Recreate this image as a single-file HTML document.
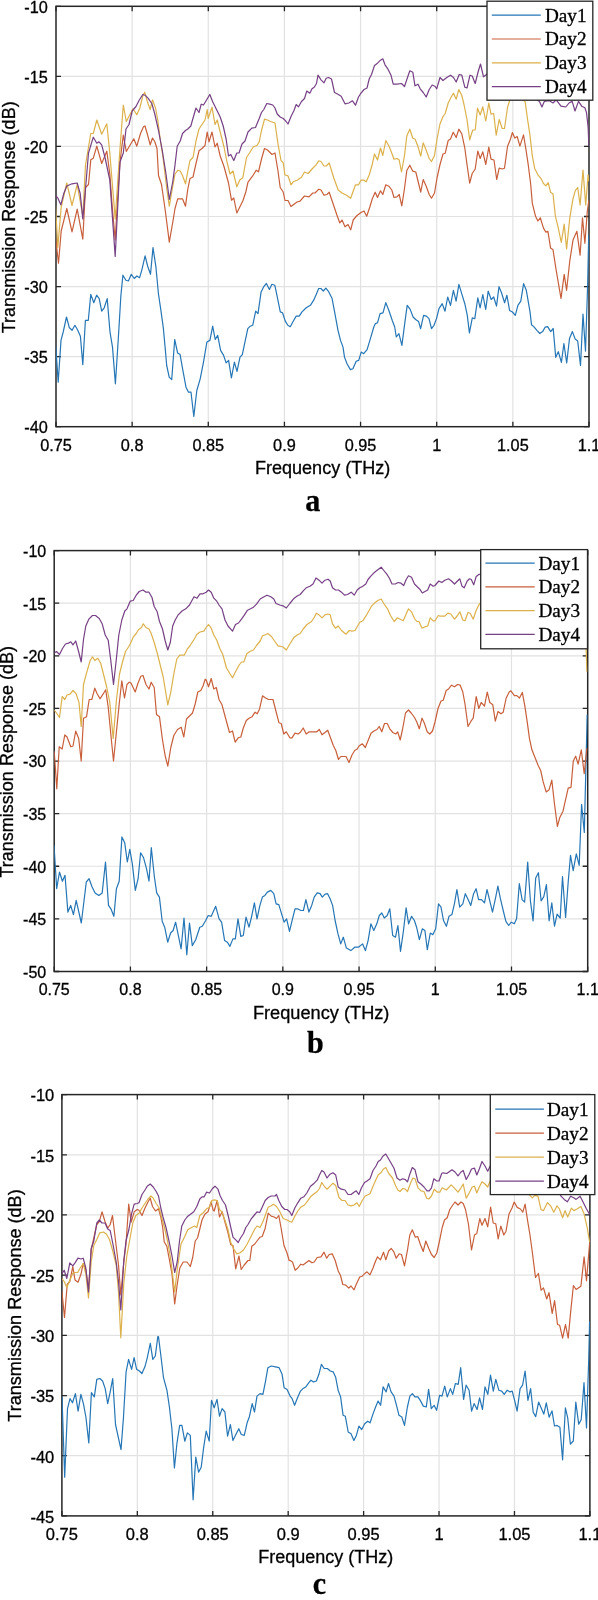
<!DOCTYPE html><html><head><meta charset="utf-8"><style>html,body{margin:0;padding:0;background:#fff;width:598px;height:1600px;overflow:hidden}svg{display:block;will-change:transform}</style></head><body>
<svg width="598" height="1600" viewBox="0 0 598 1600" font-family="Liberation Sans, sans-serif"><g stroke="#000" stroke-width="0.3">
<clipPath id="clipa"><rect x="56" y="6.3" width="533.0" height="420.4"/></clipPath>
<path d="M132.14 6.3V426.7M208.29 6.3V426.7M284.43 6.3V426.7M360.57 6.3V426.7M436.71 6.3V426.7M512.86 6.3V426.7M56 356.63H589M56 286.57H589M56 216.50H589M56 146.43H589M56 76.37H589" stroke="#e2e2e2" stroke-width="1.2" fill="none"/>
<path d="M56.00 426.7v-5M56.00 6.3v5M132.14 426.7v-5M132.14 6.3v5M208.29 426.7v-5M208.29 6.3v5M284.43 426.7v-5M284.43 6.3v5M360.57 426.7v-5M360.57 6.3v5M436.71 426.7v-5M436.71 6.3v5M512.86 426.7v-5M512.86 6.3v5M589.00 426.7v-5M589.00 6.3v5M56 426.70h5M589 426.70h-5M56 356.63h5M589 356.63h-5M56 286.57h5M589 286.57h-5M56 216.50h5M589 216.50h-5M56 146.43h5M589 146.43h-5M56 76.37h5M589 76.37h-5M56 6.30h5M589 6.30h-5" stroke="#262626" stroke-width="1.3" fill="none"/>
<rect x="56" y="6.3" width="533.0" height="420.4" fill="none" stroke="#262626" stroke-width="1.5"/>
<polyline points="55.7,345.4 58.2,382.2 61.0,340.4 63.2,332.0 66.5,317.0 69.4,327.8 72.1,330.3 74.9,325.3 77.4,329.5 80.4,336.2 82.8,364.6 85.4,320.3 88.3,320.3 90.8,294.4 93.8,302.7 96.6,295.2 99.2,298.6 101.7,311.1 104.2,307.8 107.2,298.6 110.0,332.0 112.5,347.1 115.4,383.8 118.4,337.0 120.9,295.2 122.9,275.2 125.9,280.2 128.4,281.0 131.3,274.3 134.3,278.5 136.8,276.0 139.6,277.7 141.8,270.1 145.1,255.9 147.6,266.0 150.5,274.3 153.0,247.6 155.9,266.8 158.4,293.5 160.9,310.3 163.4,328.7 165.1,347.1 166.7,365.5 169.2,377.2 171.7,379.7 174.7,339.5 177.6,352.9 180.1,354.6 182.6,368.8 186.0,387.2 188.5,392.2 191.0,392.2 193.8,416.5 196.8,390.5 200.2,378.8 203.5,362.1 206.9,342.0 209.9,340.4 212.7,326.2 215.2,339.5 217.7,335.4 220.6,350.4 223.6,355.4 226.1,362.9 228.6,360.4 231.4,378.0 234.4,362.1 237.0,371.3 240.0,357.1 242.3,354.6 245.3,340.4 247.8,328.7 250.2,326.2 252.7,325.3 255.7,311.1 258.0,313.6 261.1,291.9 263.6,286.9 266.4,283.5 269.4,289.4 271.9,284.3 274.8,285.2 276.9,295.2 280.3,311.9 282.5,312.8 285.3,321.1 287.8,325.3 290.3,326.7 292.8,322.0 296.2,316.1 299.2,316.1 302.0,311.9 306.2,307.8 310.4,305.3 313.7,300.2 316.2,294.4 318.7,288.5 320.9,288.5 323.3,291.0 325.9,288.2 328.8,291.9 332.1,298.6 334.6,311.9 338.0,330.3 340.5,340.4 343.0,347.1 344.5,357.1 347.0,363.8 350.4,369.6 352.9,368.8 356.2,361.3 358.7,360.4 361.2,352.1 363.7,353.7 367.1,349.6 370.4,338.7 373.8,327.0 375.4,323.6 377.5,322.8 380.1,313.6 383.0,312.8 385.8,302.7 388.8,310.3 392.2,320.3 394.7,327.0 396.3,337.0 398.9,333.7 401.9,345.4 404.7,323.6 407.2,305.3 410.2,309.4 413.1,317.0 415.6,319.5 418.6,321.6 420.6,328.7 423.6,315.3 426.4,316.1 429.0,318.6 431.5,328.7 434.0,325.3 436.5,318.6 439.0,308.6 442.2,303.7 445.0,311.2 447.7,297.0 450.5,305.4 453.4,290.3 456.1,301.2 458.9,284.4 461.7,293.6 464.8,303.7 467.3,315.4 469.4,332.9 472.3,317.9 474.8,318.7 477.8,297.8 480.1,307.9 482.8,294.5 485.7,309.5 488.2,291.1 491.2,299.5 493.7,297.0 496.5,306.2 499.0,286.6 501.5,292.8 504.6,302.8 506.9,295.3 509.6,310.4 512.4,312.0 515.3,315.4 517.9,305.4 520.8,301.2 523.6,283.6 526.3,290.3 530.0,311.6 531.5,324.7 533.8,326.6 536.9,330.4 539.8,333.5 542.6,331.6 545.1,327.2 547.6,326.6 550.7,331.6 553.2,328.5 555.7,357.3 558.3,351.7 561.4,362.3 563.9,343.5 566.7,363.0 569.5,338.5 572.4,331.6 575.2,339.1 577.7,341.0 580.5,365.5 583.0,314.1 585.5,351.1 587.7,282.7 588.7,235.1" fill="none" stroke="#2476b6" stroke-width="1.2" stroke-linejoin="round" clip-path="url(#clipa)"/>
<polyline points="55.5,237.0 58.5,263.2 61.2,231.0 66.8,208.5 72.0,231.8 77.2,209.2 82.8,239.2 85.5,187.5 88.5,184.5 90.8,159.8 93.3,158.2 96.8,146.2 101.7,163.5 106.8,151.2 109.8,174.0 112.5,210.0 115.2,240.0 117.8,195.0 120.0,162.0 123.3,135.0 126.3,151.5 133.8,138.8 136.8,146.2 140.5,133.5 143.5,126.8 145.0,126.0 147.2,133.5 150.2,144.8 152.5,138.0 154.8,141.8 157.0,148.5 158.5,175.5 161.5,184.5 165.2,210.0 169.3,242.2 172.8,222.0 175.0,208.5 177.7,198.8 182.5,198.8 185.5,206.2 187.8,189.0 190.0,178.5 193.0,177.0 196.0,163.5 199.0,150.8 202.0,148.5 205.0,145.5 207.2,132.0 209.0,141.8 212.0,132.0 215.0,147.0 217.2,143.2 220.2,156.0 224.0,166.5 228.5,183.0 231.5,200.2 233.8,198.0 236.8,213.0 239.8,207.0 242.8,201.0 245.8,192.0 248.0,182.2 252.5,176.2 256.2,170.2 258.5,171.8 261.5,159.0 264.5,148.5 267.5,150.0 272.0,154.5 275.0,153.0 278.0,171.0 280.2,187.5 283.2,192.0 285.0,200.5 288.0,200.5 291.0,206.5 294.0,204.2 297.0,202.0 300.0,201.2 304.5,196.0 309.0,196.8 312.8,193.0 315.0,193.0 318.8,189.2 321.0,190.0 324.0,195.2 327.0,194.5 329.2,192.2 333.0,203.5 336.8,214.8 339.8,223.0 342.0,220.0 345.0,226.8 348.0,224.5 350.7,229.8 353.2,220.0 357.0,215.5 361.0,212.5 364.0,211.0 366.7,216.2 370.0,206.5 372.2,199.0 375.2,192.2 377.5,197.5 380.5,190.8 382.8,194.5 385.8,184.8 388.8,186.2 391.8,190.0 394.0,197.5 397.0,196.8 399.2,194.5 401.8,205.8 404.5,188.5 406.8,170.5 409.8,165.2 412.8,171.2 415.8,172.0 418.0,181.0 420.7,192.2 423.2,179.5 426.2,186.2 429.2,194.5 431.5,198.2 434.5,193.0 437.0,178.0 440.0,164.5 443.0,154.0 445.2,153.2 448.2,140.5 450.5,139.0 453.2,132.2 456.2,137.5 458.8,129.2 461.8,133.8 464.8,148.0 467.0,164.5 469.7,183.2 472.2,173.5 475.2,169.0 477.8,151.0 480.2,158.5 482.8,151.8 485.8,164.5 488.8,147.2 491.0,159.2 494.0,160.0 496.7,179.5 499.2,168.2 502.2,169.0 504.5,168.2 507.5,146.5 510.5,139.0 512.4,132.5 514.8,138.1 517.2,136.5 519.9,146.1 523.5,134.9 525.9,149.2 528.3,165.2 530.7,184.3 532.3,203.4 535.5,216.2 537.9,221.0 540.3,217.8 543.5,228.1 545.9,232.1 547.9,231.3 550.6,248.1 553.0,249.7 556.2,270.4 561.0,298.3 564.2,274.4 566.6,290.3 569.8,260.8 573.0,240.1 576.9,231.3 580.1,255.2 582.5,217.8 584.9,243.3 587.3,211.4 588.9,200.2" fill="none" stroke="#c95f3a" stroke-width="1.2" stroke-linejoin="round" clip-path="url(#clipa)"/>
<polyline points="55.5,205.5 57.8,247.5 61.2,207.0 66.8,183.0 72.0,205.5 77.2,184.5 82.8,216.0 85.5,165.0 90.8,133.5 93.3,133.5 96.8,120.0 101.7,134.2 106.8,123.8 109.8,153.0 115.2,219.0 120.0,148.5 123.3,105.0 126.3,121.5 133.0,108.8 136.8,114.8 139.8,108.0 142.8,96.0 144.7,92.2 147.2,101.2 150.2,109.5 152.5,99.8 155.5,108.0 157.8,120.0 160.0,138.0 163.0,157.5 166.8,189.0 169.3,206.2 172.0,190.5 175.0,174.0 178.0,170.2 180.2,171.0 182.5,175.5 185.5,183.8 187.8,171.0 190.0,160.5 193.0,157.5 196.0,141.0 199.0,129.0 202.0,124.5 205.0,120.0 207.2,109.5 208.2,118.5 212.0,107.2 215.0,124.5 217.2,120.0 220.2,132.0 224.0,147.0 227.0,162.0 230.0,174.0 233.0,171.0 236.8,186.8 239.8,180.0 242.8,177.8 246.5,157.5 249.5,153.0 253.2,147.0 257.0,145.5 259.2,141.8 261.5,130.5 264.5,119.2 267.5,120.0 270.5,121.5 275.0,123.0 278.0,144.0 281.0,160.5 283.2,162.8 285.0,175.0 288.0,175.8 291.0,184.8 293.2,181.8 297.0,180.2 301.5,177.2 304.5,172.0 308.2,173.5 312.0,169.0 315.8,165.2 318.8,160.8 321.0,161.5 324.0,166.0 326.2,166.0 329.2,163.0 333.8,178.0 338.2,190.0 342.0,193.0 346.5,195.2 350.7,198.2 355.5,184.8 358.5,184.8 361.0,180.2 364.0,180.2 366.2,181.8 369.2,175.0 372.2,164.5 374.5,154.0 377.5,160.0 380.5,148.0 382.8,155.5 385.8,140.5 388.8,145.8 391.0,151.0 394.0,159.2 397.0,158.5 399.2,160.0 401.5,172.0 404.5,155.5 406.8,136.0 409.8,129.2 412.8,138.2 415.0,139.0 418.0,146.5 420.7,156.2 423.2,142.8 426.2,150.2 429.2,158.5 431.5,161.5 434.5,155.5 437.0,139.0 440.0,124.0 443.0,116.5 445.2,113.5 448.2,103.0 451.2,97.0 453.5,93.2 456.2,99.2 458.8,89.5 461.8,95.5 464.0,104.5 467.0,119.5 469.7,139.8 472.7,130.0 475.2,130.0 477.5,108.2 480.2,115.0 482.8,106.8 485.8,121.0 488.8,103.0 491.0,114.2 493.7,113.5 496.2,135.2 499.2,119.5 502.2,128.5 504.5,128.5 507.5,107.5 510.5,97.8 520.4,98.2 525.1,101.4 527.5,119.0 529.9,134.9 532.3,155.6 534.7,168.4 537.9,174.8 541.1,178.7 543.5,183.5 545.9,185.9 548.2,182.7 550.6,192.3 553.0,193.9 555.4,216.2 557.8,225.8 561.3,242.5 564.2,224.2 566.6,248.9 569.8,217.8 573.0,198.7 575.3,190.7 577.7,187.5 580.1,205.0 583.0,170.0 585.7,205.0 588.1,174.8 588.9,181.1" fill="none" stroke="#dcb14a" stroke-width="1.2" stroke-linejoin="round" clip-path="url(#clipa)"/>
<polyline points="55.5,195.0 57.8,198.0 60.8,204.8 63.8,193.5 66.8,186.0 72.0,183.8 77.2,183.0 80.2,193.5 82.8,219.0 85.5,189.0 88.5,153.0 93.3,137.2 96.8,143.2 99.0,141.8 101.7,144.8 105.0,157.5 109.8,180.0 115.2,256.5 120.0,162.0 123.3,153.0 126.0,129.0 129.0,124.5 132.2,111.0 136.0,106.5 139.0,100.5 142.8,94.5 145.0,95.2 148.0,98.2 151.8,103.5 154.8,114.0 158.5,130.5 162.2,150.0 166.0,174.0 169.3,199.5 172.8,181.5 175.0,165.0 177.2,146.2 180.2,141.0 182.5,133.5 185.5,130.5 187.8,129.0 190.8,126.0 193.8,115.5 196.0,108.0 199.0,112.5 201.2,104.2 203.5,105.0 205.8,101.2 209.8,94.5 212.8,102.0 216.5,109.5 220.2,117.0 223.2,126.0 226.2,139.5 228.5,156.0 230.8,154.5 233.8,160.5 236.8,153.0 239.0,153.0 242.0,144.0 245.0,141.0 248.0,132.0 251.8,128.2 255.5,127.5 259.2,118.5 261.5,112.5 263.8,109.5 266.8,103.5 269.8,104.2 272.8,105.0 275.0,108.0 277.2,114.0 280.2,117.0 283.2,118.5 285.0,120.2 288.0,124.0 291.0,116.5 294.0,110.5 296.2,104.5 298.5,106.8 301.5,101.5 304.5,98.5 306.8,91.0 309.8,93.2 312.0,88.8 314.2,87.2 316.5,83.5 318.0,75.2 321.0,79.8 324.0,82.8 326.2,78.2 328.5,77.5 331.5,79.0 334.5,92.5 337.5,94.0 341.2,96.2 345.0,103.8 348.8,103.0 352.5,100.8 355.5,105.2 358.5,97.0 361.0,93.2 364.0,89.5 367.0,88.0 369.2,79.0 371.5,74.5 374.5,65.5 377.5,63.2 380.5,60.2 382.8,58.8 385.0,64.8 388.0,69.2 391.0,75.2 393.2,84.2 397.0,84.2 401.5,83.5 404.5,86.5 407.5,77.5 409.8,70.8 412.8,72.2 415.0,85.8 418.0,84.2 420.2,88.8 423.2,92.5 426.2,97.0 429.2,89.5 432.2,85.0 435.2,86.5 436.7,88.8 440.0,77.5 443.0,80.5 446.8,77.5 450.5,75.2 453.5,77.5 456.2,82.0 459.2,74.5 461.8,75.2 464.8,87.2 467.0,88.0 470.0,75.2 472.2,76.0 475.2,83.5 478.2,71.5 480.5,64.0 483.5,76.8 486.5,74.5 491.0,70.0 497.0,73.0 503.0,67.0 519.6,91.9 529.1,95.1 539.5,101.4 541.9,107.0 544.3,101.4 549.0,100.6 553.0,103.0 556.2,99.8 561.0,106.2 565.8,107.0 569.0,103.0 572.2,101.4 575.0,111.0 578.5,101.4 581.7,106.2 584.9,107.8 586.5,112.6 588.1,126.9 588.9,146.1" fill="none" stroke="#764085" stroke-width="1.2" stroke-linejoin="round" clip-path="url(#clipa)"/>
<text x="56.00" y="450.8" font-size="16.3" text-anchor="middle">0.75</text>
<text x="132.14" y="450.8" font-size="16.3" text-anchor="middle">0.8</text>
<text x="208.29" y="450.8" font-size="16.3" text-anchor="middle">0.85</text>
<text x="284.43" y="450.8" font-size="16.3" text-anchor="middle">0.9</text>
<text x="360.57" y="450.8" font-size="16.3" text-anchor="middle">0.95</text>
<text x="436.71" y="450.8" font-size="16.3" text-anchor="middle">1</text>
<text x="512.86" y="450.8" font-size="16.3" text-anchor="middle">1.05</text>
<text x="589.00" y="450.8" font-size="16.3" text-anchor="middle">1.1</text>
<text x="47.9" y="433.20" font-size="16.3" text-anchor="end">-40</text>
<text x="47.9" y="363.13" font-size="16.3" text-anchor="end">-35</text>
<text x="47.9" y="293.07" font-size="16.3" text-anchor="end">-30</text>
<text x="47.9" y="223.00" font-size="16.3" text-anchor="end">-25</text>
<text x="47.9" y="152.93" font-size="16.3" text-anchor="end">-20</text>
<text x="47.9" y="82.87" font-size="16.3" text-anchor="end">-15</text>
<text x="47.9" y="12.80" font-size="16.3" text-anchor="end">-10</text>
<text x="254.90" y="473.7" font-size="17.6" textLength="135.5" lengthAdjust="spacingAndGlyphs">Frequency (THz)</text>
<text transform="translate(14.5,333.30) rotate(-90)" font-size="17.6" textLength="232" lengthAdjust="spacingAndGlyphs">Transmission Response (dB)</text>
<rect x="487" y="1.2" width="105.80" height="99.00" fill="#fff" stroke="#262626" stroke-width="1.3"/>
<line x1="491.8" y1="15.2" x2="540.8" y2="15.2" stroke="#2476b6" stroke-width="1.2"/>
<text x="545.0" y="21.60" font-family="Liberation Serif, serif" font-size="18.6" textLength="41.5" lengthAdjust="spacingAndGlyphs">Day1</text>
<line x1="491.8" y1="39.0" x2="540.8" y2="39.0" stroke="#c95f3a" stroke-width="1.2"/>
<text x="545.0" y="45.40" font-family="Liberation Serif, serif" font-size="18.6" textLength="41.5" lengthAdjust="spacingAndGlyphs">Day2</text>
<line x1="491.8" y1="62.8" x2="540.8" y2="62.8" stroke="#dcb14a" stroke-width="1.2"/>
<text x="545.0" y="69.20" font-family="Liberation Serif, serif" font-size="18.6" textLength="41.5" lengthAdjust="spacingAndGlyphs">Day3</text>
<line x1="491.8" y1="86.6" x2="540.8" y2="86.6" stroke="#764085" stroke-width="1.2"/>
<text x="545.0" y="93.00" font-family="Liberation Serif, serif" font-size="18.6" textLength="41.5" lengthAdjust="spacingAndGlyphs">Day4</text>
<text transform="translate(312.8,511.3) scale(0.94,1)" font-family="Liberation Serif, serif" font-weight="bold" font-size="32" text-anchor="middle">a</text>
<clipPath id="clipb"><rect x="54.2" y="550.6" width="533.5" height="420.9"/></clipPath>
<path d="M130.41 550.6V971.5M206.63 550.6V971.5M282.84 550.6V971.5M359.06 550.6V971.5M435.27 550.6V971.5M511.49 550.6V971.5M54.2 918.89H587.7M54.2 866.27H587.7M54.2 813.66H587.7M54.2 761.05H587.7M54.2 708.44H587.7M54.2 655.83H587.7M54.2 603.21H587.7" stroke="#e2e2e2" stroke-width="1.2" fill="none"/>
<path d="M54.20 971.5v-5M54.20 550.6v5M130.41 971.5v-5M130.41 550.6v5M206.63 971.5v-5M206.63 550.6v5M282.84 971.5v-5M282.84 550.6v5M359.06 971.5v-5M359.06 550.6v5M435.27 971.5v-5M435.27 550.6v5M511.49 971.5v-5M511.49 550.6v5M587.70 971.5v-5M587.70 550.6v5M54.2 971.50h5M587.7 971.50h-5M54.2 918.89h5M587.7 918.89h-5M54.2 866.27h5M587.7 866.27h-5M54.2 813.66h5M587.7 813.66h-5M54.2 761.05h5M587.7 761.05h-5M54.2 708.44h5M587.7 708.44h-5M54.2 655.83h5M587.7 655.83h-5M54.2 603.21h5M587.7 603.21h-5M54.2 550.60h5M587.7 550.60h-5" stroke="#262626" stroke-width="1.3" fill="none"/>
<rect x="54.2" y="550.6" width="533.5" height="420.9" fill="none" stroke="#262626" stroke-width="1.5"/>
<polyline points="54.0,845.2 56.7,888.7 59.5,872.0 62.4,881.2 65.0,875.3 67.9,912.1 70.7,905.4 73.4,914.6 76.2,900.4 81.3,923.0 86.3,882.0 89.1,878.7 92.1,887.0 95.1,892.9 98.8,895.4 102.2,892.9 105.5,862.0 108.5,905.4 110.9,908.8 113.9,916.3 116.4,888.7 119.2,881.2 121.9,836.9 124.7,842.7 127.3,862.0 129.8,849.4 132.3,863.6 135.3,890.4 138.1,878.7 140.6,852.8 143.6,857.8 146.5,868.6 149.0,881.2 151.3,847.7 154.4,877.0 156.7,892.9 159.4,897.1 162.2,921.3 164.7,927.2 167.7,942.2 170.6,933.0 173.1,930.5 175.6,922.2 181.1,948.9 184.0,918.0 186.8,954.8 189.5,923.0 192.3,945.6 195.7,939.7 199.8,927.2 202.3,926.3 205.7,920.5 208.2,915.5 211.2,916.3 215.7,906.3 219.1,918.8 221.6,922.2 224.6,940.6 227.4,942.2 229.9,946.4 232.9,938.9 235.3,938.9 238.0,918.8 240.8,936.4 243.3,935.5 246.0,917.1 249.0,927.2 251.5,917.1 254.4,902.9 257.0,918.8 259.9,905.4 262.4,897.1 264.9,895.4 267.4,892.1 270.8,890.4 273.8,893.7 276.1,903.8 278.8,904.6 281.6,913.8 284.1,922.2 286.6,918.8 289.5,931.4 292.5,918.8 295.0,908.8 297.5,908.8 300.9,910.5 303.4,910.5 305.9,899.6 308.9,912.1 311.7,905.4 314.2,897.1 317.2,892.9 320.1,893.7 322.3,897.1 325.1,894.1 327.6,893.7 330.1,898.7 332.6,905.4 335.1,920.5 338.0,933.9 340.7,943.9 343.3,937.2 346.4,948.1 350.9,950.6 354.7,947.2 358.4,947.2 362.6,943.9 365.4,950.6 368.1,940.6 370.9,923.8 373.8,930.5 376.8,923.8 379.3,915.5 381.8,913.0 384.3,918.0 387.2,915.5 389.8,908.8 392.7,935.5 395.5,937.2 397.9,925.5 400.5,951.4 403.5,930.5 406.1,907.9 408.6,923.8 411.6,916.3 414.4,920.5 416.6,927.2 419.4,939.7 422.3,928.8 424.9,930.5 427.3,949.7 430.3,933.0 432.8,934.7 435.7,928.8 438.5,903.8 441.0,907.1 443.5,920.5 446.4,926.3 449.0,916.3 451.9,914.6 454.4,903.8 456.9,889.5 459.7,907.1 462.8,903.8 465.3,893.7 468.1,899.6 470.8,905.4 473.6,893.7 476.1,888.7 478.6,899.6 481.5,899.6 484.5,902.9 487.0,889.5 489.5,899.6 492.5,912.1 495.4,898.7 497.9,886.2 500.4,898.7 503.2,910.5 505.9,921.3 508.7,925.5 511.3,922.2 514.3,923.8 516.6,918.8 519.3,883.7 522.1,899.6 524.6,902.1 527.7,862.0 530.4,900.8 533.1,920.8 535.7,878.0 538.4,872.7 541.1,900.8 543.8,896.7 546.4,884.7 549.1,920.8 551.8,902.8 554.5,926.2 557.1,914.1 560.2,918.1 562.5,876.7 565.6,917.5 568.2,882.0 570.5,855.3 573.2,870.7 576.3,853.9 579.2,865.3 581.6,804.4 584.3,832.5 586.2,754.9 587.2,714.8" fill="none" stroke="#2476b6" stroke-width="1.2" stroke-linejoin="round" clip-path="url(#clipb)"/>
<polyline points="54.2,751.2 56.8,788.8 59.2,746.8 62.2,749.0 64.8,734.8 67.0,737.0 70.8,746.8 73.0,746.0 75.7,731.0 78.7,738.5 81.2,761.0 83.5,718.2 86.5,716.8 89.2,699.5 91.8,699.5 94.8,688.2 97.0,693.5 100.0,698.8 103.0,694.2 105.7,689.8 108.2,707.0 110.8,734.0 113.5,761.0 116.2,734.0 119.2,704.0 121.8,680.8 124.5,698.0 127.0,684.5 129.2,682.2 131.0,683.0 135.2,692.0 137.8,683.8 140.8,676.2 143.0,675.5 146.0,684.5 149.0,689.0 151.2,682.2 154.2,687.5 156.5,714.5 159.5,716.8 162.5,740.0 165.2,755.8 167.8,766.2 170.8,747.5 173.8,735.5 177.5,729.5 181.2,727.2 183.8,737.0 186.5,719.0 189.5,716.0 192.5,713.0 195.2,704.0 197.8,692.0 200.8,690.5 203.0,686.0 205.2,679.2 206.2,680.0 208.5,686.8 211.2,678.5 213.8,689.0 216.3,687.5 219.0,699.5 222.0,704.8 225.0,716.0 229.5,732.5 232.5,731.0 235.2,742.2 238.2,737.8 240.8,737.0 243.3,728.0 246.3,720.5 249.0,718.2 252.0,716.8 255.0,712.2 257.2,713.8 259.5,709.2 262.5,695.8 265.5,698.0 268.5,699.5 273.0,699.5 276.0,711.5 279.0,722.8 281.2,723.5 283.8,734.0 286.3,731.8 289.8,737.8 292.0,737.8 295.0,733.2 298.0,734.0 300.2,732.5 303.2,728.0 306.2,734.0 309.2,731.8 313.0,731.8 316.8,731.8 319.3,729.5 322.0,734.8 325.0,732.5 327.7,730.2 330.2,737.0 333.2,745.2 335.8,750.5 338.5,759.5 340.8,756.5 346.0,756.5 349.0,762.5 352.0,755.0 354.7,750.5 357.2,749.0 359.0,746.0 362.3,743.8 365.3,747.5 368.0,740.8 371.0,733.2 374.0,731.0 377.0,729.5 379.2,726.5 381.8,731.8 384.5,723.5 387.2,723.5 389.8,728.8 392.8,732.5 395.8,734.0 397.7,731.8 400.2,740.0 402.5,729.5 405.5,713.0 408.5,710.0 411.2,713.0 414.5,717.5 416.8,722.0 419.3,728.8 422.0,718.2 424.2,722.8 427.2,731.8 429.8,734.0 432.5,731.0 435.0,722.0 438.0,708.5 441.0,701.0 443.2,700.2 446.2,690.5 448.5,689.0 451.5,685.2 454.5,686.8 457.5,684.5 460.2,685.2 462.8,692.0 465.0,704.0 468.0,726.5 471.0,721.2 473.2,718.2 476.2,696.5 478.8,708.5 481.2,702.5 484.5,706.2 487.2,692.0 489.8,702.5 492.8,704.8 495.3,721.2 498.0,711.5 501.0,713.8 503.2,712.2 506.2,698.0 509.2,692.0 510.9,690.8 514.4,695.6 516.8,695.6 519.5,698.0 522.3,692.4 524.7,705.2 527.1,721.1 529.5,738.7 531.9,749.8 535.1,757.8 538.3,765.8 540.7,770.5 543.1,781.7 546.2,792.0 549.1,789.7 551.8,780.1 554.5,804.0 557.4,826.3 559.8,817.5 563.0,811.2 565.7,799.2 568.2,788.1 571.0,787.3 573.3,761.0 575.7,756.2 578.1,764.2 581.3,749.8 584.2,773.7 586.9,748.2" fill="none" stroke="#c95f3a" stroke-width="1.2" stroke-linejoin="round" clip-path="url(#clipb)"/>
<polyline points="54.2,710.0 56.5,713.0 59.5,717.5 62.2,696.5 64.8,699.5 67.0,695.0 70.0,694.2 73.0,690.5 76.0,693.5 79.0,702.5 81.2,726.5 83.5,684.5 86.5,673.2 90.2,660.5 92.5,656.8 94.8,660.5 97.8,658.2 100.8,663.5 103.8,675.5 106.8,687.5 109.8,702.5 113.2,738.5 116.5,699.5 119.5,674.0 122.5,662.0 125.5,651.5 128.5,647.0 130.2,644.0 133.2,637.2 136.2,633.5 138.5,629.8 141.5,627.5 143.3,623.8 146.0,627.5 149.0,629.0 151.2,633.5 154.2,642.5 157.2,653.0 160.2,665.0 163.2,677.0 167.8,704.8 170.8,692.0 173.8,674.0 176.8,659.0 179.8,655.2 184.2,655.2 187.2,649.2 190.2,645.5 194.0,639.5 197.0,634.2 200.0,632.0 203.8,631.2 206.2,627.5 208.5,624.5 211.2,628.2 213.8,635.0 216.8,640.2 219.8,648.5 222.8,654.5 226.5,668.0 229.2,672.5 232.5,677.8 235.5,671.8 239.2,665.0 241.5,662.0 243.8,662.0 246.8,653.8 249.8,651.5 253.5,650.0 256.5,645.5 260.2,641.0 262.5,635.8 264.8,635.0 267.8,633.5 271.5,636.5 274.5,641.0 278.2,646.2 280.5,646.2 283.0,647.0 286.3,650.0 289.8,644.0 294.2,637.2 297.2,635.0 300.2,633.5 303.2,629.0 307.0,624.5 311.5,621.5 314.5,617.0 316.3,613.2 319.0,614.8 322.0,617.8 325.0,614.8 328.0,614.0 330.2,614.8 332.5,623.8 335.5,628.2 338.2,626.0 341.5,630.5 346.0,634.2 349.3,630.5 352.0,631.2 355.0,630.5 359.8,622.2 362.8,620.8 365.8,616.2 368.8,611.0 371.8,605.8 374.8,602.8 377.8,600.5 381.2,599.0 383.8,603.5 387.5,608.8 390.5,615.5 394.2,621.5 397.2,617.8 400.2,619.2 403.2,620.8 406.2,614.0 408.5,608.8 411.5,611.8 414.5,618.5 416.8,621.5 419.0,621.5 422.0,628.2 425.0,626.8 427.7,626.0 430.2,617.8 433.2,620.8 435.0,620.8 438.3,615.5 440.2,616.2 442.5,616.2 444.8,616.2 447.8,613.2 450.8,614.0 454.5,619.2 457.5,615.5 459.8,611.8 462.8,620.0 465.0,620.8 468.0,612.5 470.2,613.2 473.2,619.2 476.2,610.2 479.2,604.2 481.5,602.0 492.0,599.0 571.8,606.4 584.5,609.6 586.1,647.8 586.9,671.7" fill="none" stroke="#dcb14a" stroke-width="1.2" stroke-linejoin="round" clip-path="url(#clipb)"/>
<polyline points="54.2,653.0 56.5,651.5 59.5,654.5 62.5,648.5 65.5,644.0 68.5,643.2 70.8,641.8 73.0,644.8 75.7,641.0 78.2,650.0 81.2,662.0 83.5,639.5 85.8,626.0 88.8,619.2 92.5,615.5 95.5,615.5 99.2,618.5 102.2,623.8 105.2,635.0 108.2,640.2 110.8,660.5 113.5,684.5 116.2,660.5 118.8,635.0 121.8,620.0 124.8,611.0 127.0,608.8 130.2,601.2 133.2,600.5 136.2,595.2 139.2,591.5 143.0,590.0 146.0,592.2 149.0,592.2 152.0,597.5 154.2,606.5 157.2,611.8 159.5,621.5 162.5,629.0 165.2,641.0 167.8,650.0 170.3,642.5 172.7,626.0 175.2,620.0 178.2,614.8 182.0,611.0 185.8,608.8 189.5,605.0 194.0,596.8 197.0,598.2 200.0,593.8 203.0,593.8 206.2,592.2 208.5,590.0 211.2,592.2 213.8,598.2 216.8,601.2 219.0,605.0 222.0,608.8 225.0,620.0 228.0,626.0 232.5,631.2 235.5,624.5 238.5,623.0 241.5,619.2 244.5,614.8 247.5,610.2 250.5,608.8 253.5,607.2 256.5,604.2 260.2,599.0 264.0,596.8 267.0,595.2 270.8,596.8 273.8,599.0 276.0,603.5 279.8,605.0 283.0,605.8 286.3,608.0 289.8,603.5 294.2,598.2 297.2,596.0 300.2,594.5 303.2,590.8 306.2,587.8 310.0,586.2 313.0,584.0 316.0,578.0 319.0,580.2 322.0,583.2 325.0,580.2 328.0,579.2 330.2,581.0 332.5,587.8 335.5,590.0 338.5,590.0 341.5,592.2 344.5,595.2 347.5,594.5 351.2,592.2 354.2,595.2 357.2,590.0 359.8,587.8 362.8,586.2 365.8,584.0 368.0,579.5 371.0,575.8 374.0,572.8 377.8,569.8 381.2,567.2 383.8,570.5 386.8,574.2 389.3,578.0 392.0,584.0 395.3,584.0 398.0,582.5 401.0,583.2 403.7,585.5 406.2,579.5 408.5,575.8 411.5,577.2 414.5,584.0 417.5,587.0 419.8,589.2 422.3,593.0 425.0,591.5 427.7,590.0 430.2,584.0 433.2,586.2 435.0,585.5 438.8,581.0 441.8,582.5 444.8,580.2 448.5,578.8 451.5,581.0 454.5,584.0 457.5,581.0 459.8,578.8 462.0,586.2 464.2,587.8 467.2,581.0 469.5,578.8 471.3,579.5 473.7,584.8 476.2,576.5 479.2,574.2 481.5,575.0 492.0,572.0 586.9,603.2" fill="none" stroke="#764085" stroke-width="1.2" stroke-linejoin="round" clip-path="url(#clipb)"/>
<text x="54.20" y="995.3" font-size="16" text-anchor="middle">0.75</text>
<text x="130.41" y="995.3" font-size="16" text-anchor="middle">0.8</text>
<text x="206.63" y="995.3" font-size="16" text-anchor="middle">0.85</text>
<text x="282.84" y="995.3" font-size="16" text-anchor="middle">0.9</text>
<text x="359.06" y="995.3" font-size="16" text-anchor="middle">0.95</text>
<text x="435.27" y="995.3" font-size="16" text-anchor="middle">1</text>
<text x="511.49" y="995.3" font-size="16" text-anchor="middle">1.05</text>
<text x="587.70" y="995.3" font-size="16" text-anchor="middle">1.1</text>
<text x="46.2" y="977.90" font-size="16" text-anchor="end">-50</text>
<text x="46.2" y="925.29" font-size="16" text-anchor="end">-45</text>
<text x="46.2" y="872.67" font-size="16" text-anchor="end">-40</text>
<text x="46.2" y="820.06" font-size="16" text-anchor="end">-35</text>
<text x="46.2" y="767.45" font-size="16" text-anchor="end">-30</text>
<text x="46.2" y="714.84" font-size="16" text-anchor="end">-25</text>
<text x="46.2" y="662.23" font-size="16" text-anchor="end">-20</text>
<text x="46.2" y="609.61" font-size="16" text-anchor="end">-15</text>
<text x="46.2" y="557.00" font-size="16" text-anchor="end">-10</text>
<text x="252.95" y="1019.2" font-size="17.6" textLength="136.5" lengthAdjust="spacingAndGlyphs">Frequency (THz)</text>
<text transform="translate(12.6,877.60) rotate(-90)" font-size="17.6" textLength="231.7" lengthAdjust="spacingAndGlyphs">Transmission Response (dB)</text>
<rect x="480.7" y="549.6" width="106.80" height="99.20" fill="#fff" stroke="#262626" stroke-width="1.3"/>
<line x1="485.4" y1="563.2" x2="534.7" y2="563.2" stroke="#2476b6" stroke-width="1.2"/>
<text x="538.5" y="569.60" font-family="Liberation Serif, serif" font-size="18.6" textLength="41.5" lengthAdjust="spacingAndGlyphs">Day1</text>
<line x1="485.4" y1="586.9" x2="534.7" y2="586.9" stroke="#c95f3a" stroke-width="1.2"/>
<text x="538.5" y="593.30" font-family="Liberation Serif, serif" font-size="18.6" textLength="41.5" lengthAdjust="spacingAndGlyphs">Day2</text>
<line x1="485.4" y1="610.6" x2="534.7" y2="610.6" stroke="#dcb14a" stroke-width="1.2"/>
<text x="538.5" y="617.00" font-family="Liberation Serif, serif" font-size="18.6" textLength="41.5" lengthAdjust="spacingAndGlyphs">Day3</text>
<line x1="485.4" y1="634.3" x2="534.7" y2="634.3" stroke="#764085" stroke-width="1.2"/>
<text x="538.5" y="640.70" font-family="Liberation Serif, serif" font-size="18.6" textLength="41.5" lengthAdjust="spacingAndGlyphs">Day4</text>
<text transform="translate(315.4,1053.3) scale(0.94,1)" font-family="Liberation Serif, serif" font-weight="bold" font-size="32" text-anchor="middle">b</text>
<clipPath id="clipc"><rect x="61.9" y="1094.6" width="528.0" height="421.3"/></clipPath>
<path d="M137.33 1094.6V1515.9M212.76 1094.6V1515.9M288.19 1094.6V1515.9M363.61 1094.6V1515.9M439.04 1094.6V1515.9M514.47 1094.6V1515.9M61.9 1455.71H589.9M61.9 1395.53H589.9M61.9 1335.34H589.9M61.9 1275.16H589.9M61.9 1214.97H589.9M61.9 1154.79H589.9" stroke="#e2e2e2" stroke-width="1.2" fill="none"/>
<path d="M61.90 1515.9v-5M61.90 1094.6v5M137.33 1515.9v-5M137.33 1094.6v5M212.76 1515.9v-5M212.76 1094.6v5M288.19 1515.9v-5M288.19 1094.6v5M363.61 1515.9v-5M363.61 1094.6v5M439.04 1515.9v-5M439.04 1094.6v5M514.47 1515.9v-5M514.47 1094.6v5M589.90 1515.9v-5M589.90 1094.6v5M61.9 1515.90h5M589.9 1515.90h-5M61.9 1455.71h5M589.9 1455.71h-5M61.9 1395.53h5M589.9 1395.53h-5M61.9 1335.34h5M589.9 1335.34h-5M61.9 1275.16h5M589.9 1275.16h-5M61.9 1214.97h5M589.9 1214.97h-5M61.9 1154.79h5M589.9 1154.79h-5M61.9 1094.60h5M589.9 1094.60h-5" stroke="#262626" stroke-width="1.3" fill="none"/>
<rect x="61.9" y="1094.6" width="528.0" height="421.3" fill="none" stroke="#262626" stroke-width="1.5"/>
<polyline points="62.0,1396.9 64.7,1477.2 67.5,1408.6 70.0,1398.6 72.5,1402.8 75.4,1393.6 78.1,1411.1 80.9,1394.4 83.4,1403.6 85.9,1417.0 88.8,1442.9 91.4,1392.7 94.3,1396.9 96.8,1379.4 99.8,1378.5 102.6,1381.0 105.2,1388.6 107.7,1403.6 110.2,1391.9 112.7,1378.5 115.5,1424.5 121.0,1449.6 123.5,1417.0 126.1,1371.8 128.6,1359.3 131.6,1369.3 134.1,1357.6 136.6,1369.3 139.4,1371.0 141.9,1373.5 144.9,1366.8 147.3,1357.6 150.3,1343.4 152.8,1359.3 155.3,1356.0 157.8,1336.7 158.5,1336.7 161.0,1356.8 163.5,1377.7 166.9,1390.2 169.4,1407.0 171.9,1428.7 174.4,1468.0 176.9,1443.7 179.7,1425.4 181.9,1425.4 184.8,1441.2 187.4,1432.9 190.3,1435.4 193.1,1499.8 195.8,1457.1 198.6,1472.2 201.2,1467.2 203.7,1447.1 206.2,1431.2 209.2,1441.2 211.5,1400.3 214.2,1407.8 217.0,1399.4 219.5,1416.2 222.1,1408.6 224.9,1412.0 227.6,1436.2 230.4,1424.5 232.9,1440.4 235.9,1434.5 238.8,1428.7 241.3,1434.5 244.3,1435.4 247.1,1422.8 249.3,1417.0 252.2,1403.6 254.5,1412.0 257.0,1396.1 260.0,1393.6 262.9,1394.4 265.4,1381.9 267.9,1367.7 271.2,1366.0 275.4,1366.8 279.1,1367.7 282.1,1374.3 284.1,1387.7 287.1,1389.4 290.1,1396.1 292.1,1398.6 294.6,1405.3 297.5,1397.8 300.5,1391.1 303.0,1388.6 305.8,1386.9 308.9,1382.7 310.9,1380.2 313.5,1381.9 316.4,1381.0 318.9,1374.3 321.4,1364.3 324.2,1368.5 327.3,1368.5 330.3,1371.0 333.1,1371.8 335.6,1376.9 338.1,1390.2 340.6,1396.9 343.1,1415.3 345.3,1416.2 348.2,1432.0 351.0,1433.7 353.9,1440.4 356.4,1435.4 358.9,1426.2 361.7,1429.5 364.7,1423.7 367.7,1421.2 370.1,1422.8 373.1,1413.6 375.6,1407.0 378.1,1401.1 380.6,1405.3 383.1,1386.9 386.1,1391.9 388.5,1383.5 391.1,1391.9 394.0,1396.1 396.5,1405.3 399.0,1415.3 401.8,1417.0 404.5,1425.4 407.4,1407.0 409.9,1396.1 412.4,1393.6 414.9,1396.9 417.9,1396.9 420.7,1401.1 423.3,1406.1 426.3,1407.0 428.6,1389.4 431.3,1408.6 434.1,1405.3 436.6,1410.3 439.6,1395.3 442.0,1396.1 444.7,1386.1 447.3,1396.9 450.4,1388.6 452.7,1394.4 455.4,1383.5 458.2,1384.4 460.7,1367.7 463.6,1399.4 466.1,1385.2 469.1,1390.2 471.6,1411.1 474.1,1403.6 477.1,1409.5 479.6,1397.8 482.5,1409.5 485.0,1386.9 487.8,1394.4 490.5,1375.2 493.3,1391.1 495.8,1379.4 498.8,1390.2 501.7,1391.1 504.2,1394.4 507.2,1390.2 510.1,1391.9 512.2,1391.1 514.6,1400.3 517.1,1411.1 520.1,1388.6 522.6,1385.2 525.1,1371.0 527.9,1400.3 530.6,1388.6 533.2,1412.2 535.7,1416.6 538.6,1402.1 541.1,1407.8 543.8,1414.1 546.3,1402.8 549.1,1417.2 552.0,1410.9 554.5,1426.0 557.0,1425.4 559.9,1427.2 562.6,1459.8 565.4,1407.8 567.7,1417.8 570.4,1444.2 573.3,1441.0 575.8,1402.1 578.7,1424.1 581.2,1419.7 584.0,1382.7 586.5,1427.9 588.7,1360.1 589.6,1321.3" fill="none" stroke="#2476b6" stroke-width="1.2" stroke-linejoin="round" clip-path="url(#clipc)"/>
<polyline points="61.8,1290.5 64.5,1317.5 67.2,1284.5 69.8,1281.5 72.8,1266.5 75.0,1280.0 78.0,1282.2 81.0,1274.0 83.2,1263.5 85.8,1269.5 88.5,1289.0 91.2,1250.0 93.8,1238.0 96.8,1224.5 99.3,1221.5 102.0,1211.8 105.0,1221.5 107.7,1228.2 110.2,1224.5 112.5,1215.5 115.2,1238.0 118.5,1265.0 120.8,1295.0 123.8,1262.0 126.0,1244.0 128.7,1204.2 131.2,1222.2 134.2,1211.8 137.2,1209.5 139.0,1210.2 142.0,1215.5 145.0,1208.0 148.0,1202.0 150.2,1198.2 152.5,1206.5 155.5,1211.0 158.5,1208.8 160.8,1217.0 162.7,1227.5 164.2,1241.8 166.8,1246.2 169.0,1257.5 172.0,1274.0 174.7,1304.0 177.2,1284.5 179.8,1268.0 183.2,1262.0 187.0,1262.0 190.3,1266.5 192.7,1257.5 195.2,1241.0 197.5,1238.0 199.8,1229.0 202.0,1220.0 205.0,1214.0 208.0,1211.8 211.0,1202.0 213.2,1210.2 214.2,1211.0 217.2,1200.5 219.5,1217.0 222.2,1211.8 224.8,1221.5 227.8,1232.0 230.8,1244.8 233.0,1245.5 235.7,1268.8 239.0,1256.0 241.2,1269.5 244.2,1265.0 248.0,1260.5 249.8,1260.5 251.8,1246.2 254.8,1244.0 257.0,1241.0 260.0,1237.2 262.2,1236.5 265.2,1228.2 268.2,1213.2 271.2,1216.2 274.2,1217.0 276.5,1218.5 278.8,1215.5 281.0,1227.5 284.0,1245.5 287.0,1253.0 289.2,1260.5 290.2,1260.5 292.5,1262.0 295.2,1270.2 297.8,1268.0 300.8,1264.2 303.0,1265.0 306.0,1262.8 309.0,1260.5 312.0,1262.8 314.2,1262.0 317.2,1257.5 321.0,1256.8 324.0,1252.2 326.7,1258.2 329.2,1254.5 332.2,1253.8 335.2,1260.5 338.2,1271.0 340.5,1275.5 342.8,1284.5 345.8,1285.2 348.8,1288.2 351.0,1286.0 354.0,1289.8 356.2,1284.5 359.7,1277.0 362.2,1276.2 365.2,1273.2 367.0,1271.8 370.0,1274.8 373.0,1268.0 375.2,1262.0 377.5,1256.8 380.5,1259.8 383.5,1252.2 385.8,1259.8 388.8,1250.8 391.3,1248.5 394.0,1252.2 396.2,1258.2 399.2,1253.8 401.5,1254.5 404.5,1265.8 407.5,1250.0 409.8,1235.0 412.3,1229.8 415.3,1237.2 417.7,1236.5 420.2,1244.0 423.2,1251.5 425.8,1241.0 428.8,1248.5 431.5,1254.5 434.2,1257.5 436.8,1253.0 439.8,1239.5 442.2,1227.5 444.5,1220.0 447.2,1217.8 449.8,1209.5 452.8,1205.0 455.0,1202.0 458.0,1205.0 461.0,1202.0 463.2,1203.5 465.5,1209.5 468.5,1224.5 471.5,1250.0 474.5,1235.0 476.8,1233.5 479.8,1218.5 482.0,1225.2 485.0,1218.5 487.7,1226.8 490.6,1207.2 493.2,1223.0 495.8,1223.8 498.2,1238.8 500.8,1226.0 503.8,1235.0 506.0,1231.2 509.0,1214.0 512.0,1208.0 514.2,1202.0 517.2,1207.4 520.4,1209.0 522.8,1212.2 525.1,1204.2 527.5,1220.1 529.9,1234.5 532.3,1252.0 535.5,1277.5 538.4,1273.5 541.1,1290.2 543.5,1287.9 546.7,1299.0 549.0,1292.6 552.2,1313.4 554.6,1300.6 557.5,1324.5 559.7,1325.3 562.6,1338.1 565.5,1324.5 568.2,1338.1 570.6,1312.6 573.4,1285.5 576.1,1289.5 580.9,1286.3 584.1,1256.8 586.5,1280.7 589.7,1242.4" fill="none" stroke="#c95f3a" stroke-width="1.2" stroke-linejoin="round" clip-path="url(#clipc)"/>
<polyline points="61.8,1278.5 64.2,1281.5 66.8,1287.5 69.3,1281.5 72.8,1273.2 75.0,1272.5 77.7,1272.5 80.2,1268.0 83.2,1263.5 85.8,1274.0 88.5,1298.0 91.2,1262.0 93.8,1245.5 96.8,1239.5 99.8,1232.8 103.5,1232.0 106.5,1234.2 109.5,1239.5 112.5,1250.0 116.2,1265.0 118.5,1292.0 120.8,1337.8 123.8,1283.0 126.8,1256.0 129.8,1239.5 132.8,1223.0 135.8,1215.5 139.0,1213.2 142.0,1208.0 145.0,1203.5 148.0,1199.0 151.0,1196.0 153.2,1198.2 156.2,1203.5 159.2,1208.0 161.5,1217.0 164.5,1227.5 167.5,1241.0 170.5,1257.5 174.7,1292.0 177.2,1269.5 181.0,1244.0 184.0,1238.0 187.8,1229.8 191.5,1227.5 194.5,1226.0 196.8,1227.5 199.8,1215.5 203.5,1212.5 206.5,1208.8 209.5,1207.2 211.8,1200.5 214.2,1199.8 217.2,1200.5 219.5,1209.5 221.8,1211.8 224.8,1220.0 227.8,1229.0 230.8,1242.5 233.8,1249.2 236.8,1253.8 239.8,1253.0 243.5,1250.0 247.2,1244.0 251.0,1236.5 254.8,1229.0 257.0,1226.0 260.0,1227.5 263.0,1221.5 266.0,1213.2 268.2,1207.2 271.2,1205.8 273.5,1204.2 276.5,1206.5 279.5,1211.0 283.2,1218.5 287.0,1220.0 289.7,1221.5 291.8,1222.2 294.8,1216.2 297.8,1211.0 300.8,1207.2 304.5,1205.0 307.5,1201.2 310.5,1196.8 314.2,1193.8 317.2,1191.5 319.5,1188.5 321.8,1182.5 324.8,1187.0 327.3,1189.2 330.0,1186.2 333.0,1183.2 335.7,1185.5 339.0,1197.5 342.0,1200.5 345.0,1200.5 348.0,1205.0 351.0,1205.8 354.0,1205.0 357.0,1202.8 359.2,1206.5 362.2,1200.5 365.2,1196.0 367.0,1195.2 370.0,1193.8 373.0,1186.2 376.0,1179.5 378.2,1175.0 380.8,1172.8 383.5,1169.0 385.8,1167.5 388.8,1173.5 392.5,1178.0 395.5,1185.5 397.8,1190.0 400.0,1191.5 402.7,1188.5 405.2,1189.2 407.5,1191.5 410.5,1183.2 412.8,1178.0 415.0,1178.8 418.0,1187.8 421.0,1190.8 424.0,1191.5 426.7,1198.2 428.8,1199.0 431.5,1196.0 434.2,1189.2 437.5,1192.2 439.8,1192.2 442.2,1187.8 446.3,1190.0 451.2,1184.8 454.2,1187.8 458.0,1192.2 461.0,1187.8 463.2,1184.0 466.2,1198.2 469.2,1193.0 472.2,1187.0 474.5,1186.2 476.8,1193.0 479.3,1187.0 482.0,1181.8 485.0,1184.0 487.7,1187.0 490.2,1181.0 500.0,1179.5 519.6,1185.1 532.3,1197.8 534.7,1195.4 537.9,1196.2 541.1,1209.8 543.5,1210.6 547.5,1202.6 550.6,1205.8 553.8,1212.2 557.0,1205.8 559.4,1209.0 562.6,1217.7 565.0,1210.6 567.7,1216.9 571.4,1208.2 573.8,1210.6 576.9,1209.0 580.9,1206.6 584.1,1213.8 587.3,1228.1 589.7,1242.4" fill="none" stroke="#dcb14a" stroke-width="1.2" stroke-linejoin="round" clip-path="url(#clipc)"/>
<polyline points="61.8,1274.0 64.2,1270.2 66.8,1278.5 69.8,1262.8 72.8,1265.8 75.0,1262.8 78.0,1258.2 81.0,1259.0 83.2,1258.2 85.8,1268.0 88.5,1292.0 91.2,1248.5 93.8,1241.0 96.8,1223.0 99.3,1220.0 102.0,1223.0 105.0,1223.0 107.7,1229.0 110.2,1230.5 113.2,1245.5 116.2,1262.0 118.5,1281.5 120.8,1310.0 123.8,1260.5 126.0,1241.0 129.0,1229.0 131.7,1213.2 134.2,1204.2 137.2,1203.5 139.0,1202.8 142.0,1194.5 145.0,1190.0 147.2,1186.2 150.2,1184.0 153.2,1187.0 156.2,1191.5 158.5,1196.0 160.8,1208.0 163.0,1217.0 166.0,1227.5 169.0,1241.0 172.0,1256.0 174.7,1272.5 177.2,1262.0 179.5,1241.0 181.8,1226.0 184.8,1220.0 187.8,1216.2 190.8,1214.0 193.8,1211.8 196.8,1206.5 199.8,1199.0 202.0,1196.8 204.2,1196.8 206.5,1192.2 209.5,1193.0 212.5,1188.5 215.0,1186.2 218.0,1189.2 220.2,1196.0 222.5,1200.5 225.5,1205.0 228.5,1217.0 230.8,1227.5 233.0,1237.2 236.0,1240.2 238.2,1242.5 240.5,1238.0 243.5,1233.5 245.8,1227.5 248.0,1224.5 251.0,1219.2 254.0,1215.5 257.0,1211.8 259.7,1212.5 262.2,1207.2 265.2,1200.5 268.2,1197.5 271.2,1196.0 275.0,1196.0 276.5,1194.5 278.8,1200.5 281.8,1206.5 284.8,1209.5 287.0,1209.5 289.7,1211.8 291.8,1215.5 294.8,1208.0 297.8,1202.8 300.8,1198.2 303.8,1196.8 306.8,1193.0 310.5,1186.2 314.2,1183.2 317.2,1180.2 319.5,1175.0 321.8,1170.5 324.0,1172.0 327.0,1178.0 330.0,1174.2 333.0,1172.8 335.7,1175.0 338.2,1187.0 341.2,1189.2 345.0,1190.0 348.0,1194.5 351.0,1194.5 354.0,1192.2 356.2,1190.8 358.8,1194.5 361.5,1187.8 364.5,1182.5 367.0,1181.0 370.0,1178.8 373.0,1170.5 376.0,1166.0 378.2,1161.5 380.5,1160.0 382.8,1156.2 385.8,1154.0 388.0,1157.8 391.0,1163.0 394.0,1168.2 397.0,1178.0 400.0,1180.2 402.7,1178.8 405.2,1179.5 407.5,1181.8 409.8,1174.2 412.3,1167.5 415.0,1169.8 418.0,1181.8 421.8,1184.8 424.0,1187.0 427.0,1190.8 429.2,1190.8 431.5,1187.8 433.8,1178.8 436.8,1181.0 439.0,1181.0 441.7,1173.5 443.0,1172.8 446.8,1173.5 452.0,1169.8 455.0,1172.0 458.0,1175.8 461.0,1172.0 463.2,1170.5 466.2,1179.5 469.2,1174.2 471.5,1169.0 474.5,1168.2 476.8,1175.0 479.3,1169.0 482.0,1161.5 485.0,1166.0 487.7,1171.2 490.2,1166.0 500.0,1167.5 557.8,1189.8 561.0,1196.2 564.2,1199.4 567.4,1201.8 570.6,1196.2 573.8,1197.8 576.1,1199.4 580.1,1196.2 583.3,1202.6 586.5,1209.0 589.7,1214.5" fill="none" stroke="#764085" stroke-width="1.2" stroke-linejoin="round" clip-path="url(#clipc)"/>
<text x="61.90" y="1539.8" font-size="16.5" text-anchor="middle">0.75</text>
<text x="137.33" y="1539.8" font-size="16.5" text-anchor="middle">0.8</text>
<text x="212.76" y="1539.8" font-size="16.5" text-anchor="middle">0.85</text>
<text x="288.19" y="1539.8" font-size="16.5" text-anchor="middle">0.9</text>
<text x="363.61" y="1539.8" font-size="16.5" text-anchor="middle">0.95</text>
<text x="439.04" y="1539.8" font-size="16.5" text-anchor="middle">1</text>
<text x="514.47" y="1539.8" font-size="16.5" text-anchor="middle">1.05</text>
<text x="589.90" y="1539.8" font-size="16.5" text-anchor="middle">1.1</text>
<text x="54.3" y="1522.70" font-size="16.5" text-anchor="end">-45</text>
<text x="54.3" y="1462.51" font-size="16.5" text-anchor="end">-40</text>
<text x="54.3" y="1402.33" font-size="16.5" text-anchor="end">-35</text>
<text x="54.3" y="1342.14" font-size="16.5" text-anchor="end">-30</text>
<text x="54.3" y="1281.96" font-size="16.5" text-anchor="end">-25</text>
<text x="54.3" y="1221.77" font-size="16.5" text-anchor="end">-20</text>
<text x="54.3" y="1161.59" font-size="16.5" text-anchor="end">-15</text>
<text x="54.3" y="1101.40" font-size="16.5" text-anchor="end">-10</text>
<text x="258.30" y="1562.8" font-size="17.6" textLength="135" lengthAdjust="spacingAndGlyphs">Frequency (THz)</text>
<text transform="translate(20.9,1421.70) rotate(-90)" font-size="17.6" textLength="232.4" lengthAdjust="spacingAndGlyphs">Transmission Response (dB)</text>
<rect x="490.3" y="1094.6" width="104.50" height="100.00" fill="#fff" stroke="#262626" stroke-width="1.3"/>
<line x1="495.3" y1="1109.1" x2="543.9" y2="1109.1" stroke="#2476b6" stroke-width="1.2"/>
<text x="547.0" y="1115.50" font-family="Liberation Serif, serif" font-size="18.6" textLength="41.5" lengthAdjust="spacingAndGlyphs">Day1</text>
<line x1="495.3" y1="1133.1" x2="543.9" y2="1133.1" stroke="#c95f3a" stroke-width="1.2"/>
<text x="547.0" y="1139.50" font-family="Liberation Serif, serif" font-size="18.6" textLength="41.5" lengthAdjust="spacingAndGlyphs">Day2</text>
<line x1="495.3" y1="1157.1" x2="543.9" y2="1157.1" stroke="#dcb14a" stroke-width="1.2"/>
<text x="547.0" y="1163.50" font-family="Liberation Serif, serif" font-size="18.6" textLength="41.5" lengthAdjust="spacingAndGlyphs">Day3</text>
<line x1="495.3" y1="1181.1" x2="543.9" y2="1181.1" stroke="#764085" stroke-width="1.2"/>
<text x="547.0" y="1187.50" font-family="Liberation Serif, serif" font-size="18.6" textLength="41.5" lengthAdjust="spacingAndGlyphs">Day4</text>
<text transform="translate(319.3,1593.6) scale(0.94,1)" font-family="Liberation Serif, serif" font-weight="bold" font-size="32" text-anchor="middle">c</text>
</g></svg></body></html>
